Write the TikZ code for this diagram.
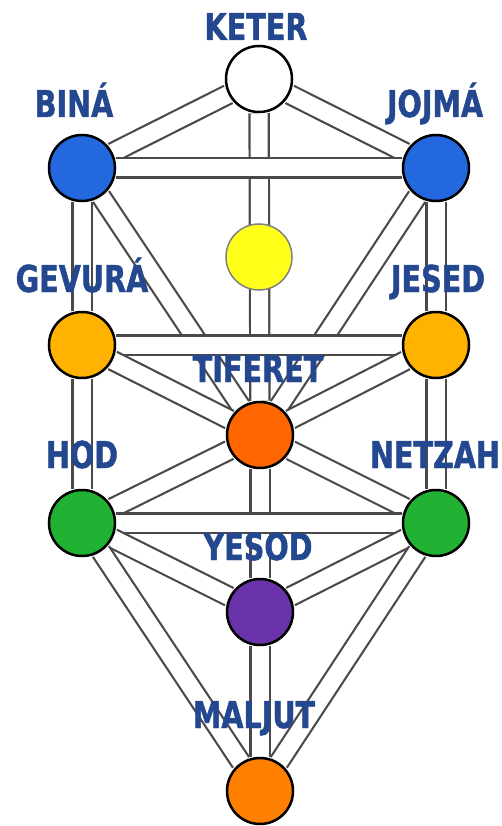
\documentclass[tikz,border=0pt]{standalone}
\usepackage{fontspec}
\usepackage{tikz}
\usepackage{xcolor}
\usetikzlibrary{backgrounds}
\newfontfamily\sefirafont[FakeStretch=0.86, FakeBold=1.2]{DejaVu Sans Condensed}
\definecolor{Label_Blue}{HTML}{24488F}
\definecolor{Path_Gray}{HTML}{4A4A4A}
\definecolor{Bina_Blue}{HTML}{2468E0}
\definecolor{Daat_Yellow}{HTML}{FFFF1A}
\definecolor{Gevura_Gold}{HTML}{FFB300}
\definecolor{Tiferet_Orange}{HTML}{FF6600}
\definecolor{Hod_Green}{HTML}{22B233}
\definecolor{Yesod_Purple}{HTML}{6832A8}
\definecolor{Maljut_Orange}{HTML}{FF8000}

\begin{document}
\begin{tikzpicture}[x=1pt, y=-1pt,
    sefira/.style={circle, draw=black, line width=2.5pt, minimum size=66pt, inner sep=0pt},
    pathway/.style={draw=Path_Gray, line width=2.2pt, double=white, double distance=17pt},
    title/.style={font=\sefirafont\bfseries\fontsize{37}{37}\selectfont, text=Label_Blue, inner sep=0pt, anchor=base}]
    \useasboundingbox (0,0) rectangle (501,826);

    % Sefirot
    \node[sefira, fill=white] (keter) at (259,79) {};
    \node[sefira, fill=Bina_Blue] (bina) at (82,168) {};
    \node[sefira, fill=Bina_Blue] (jojma) at (436,168) {};
    \node[sefira, fill=Daat_Yellow, draw=gray, line width=1.5pt] (daat) at (259,257) {};
    \node[sefira, fill=Gevura_Gold] (gevura) at (82,345) {};
    \node[sefira, fill=Gevura_Gold] (jesed) at (436,345) {};
    \node[sefira, fill=Tiferet_Orange] (tiferet) at (260,435) {};
    \node[sefira, fill=Hod_Green] (hod) at (82,523) {};
    \node[sefira, fill=Hod_Green] (netzah) at (436,523) {};
    \node[sefira, fill=Yesod_Purple] (yesod) at (260,612) {};
    \node[sefira, fill=Maljut_Orange] (maljut) at (260,791) {};

    % Names
    \node[title] (keterlabel) at (256,40) {KETER};
    \node[title] (binalabel) at (74,117) {BINÁ};
    \node[title] (jojmalabel) at (435,117) {JOJMÁ};
    \node[title] (gevuralabel) at (82,292) {GEVURÁ};
    \node[title] (jesedlabel) at (438,292) {JESED};
    \node[title] (tiferetlabel) at (258,382) {TIFERET};
    \node[title] (hodlabel) at (82,468) {HOD};
    \node[title] (netzahlabel) at (435,468) {NETZAH};
    \node[title] (yesodlabel) at (258,560) {YESOD};
    \node[title] (maljutlabel) at (254,728) {MALJUT};

    % The 22 paths, behind the circles
    \begin{scope}[on background layer]
        \foreach \a/\b in {keter/bina, keter/jojma, keter/tiferet, bina/jojma,
                bina/gevura, bina/tiferet, jojma/jesed, jojma/tiferet,
                gevura/jesed, gevura/tiferet, gevura/hod, jesed/tiferet,
                jesed/netzah, tiferet/hod, tiferet/netzah, tiferet/yesod,
                hod/netzah, hod/yesod, hod/maljut, netzah/yesod,
                netzah/maljut, yesod/maljut}
            \draw[pathway] (\a) -- (\b);
    \end{scope}
\end{tikzpicture}
\end{document}
